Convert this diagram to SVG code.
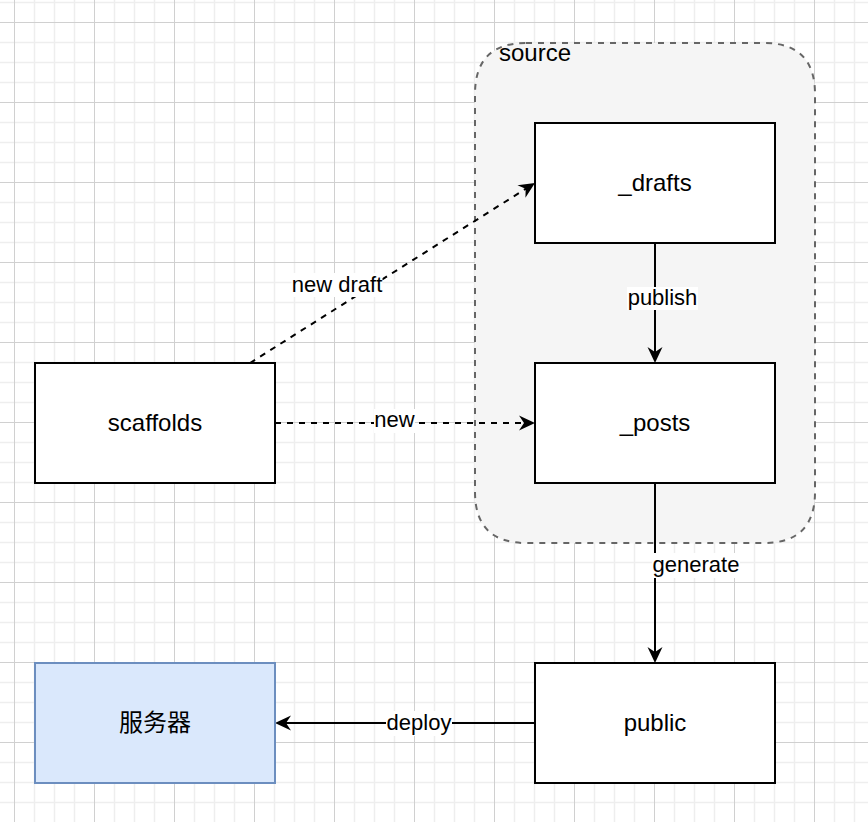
<svg xmlns="http://www.w3.org/2000/svg" width="868" height="822" viewBox="0 0 868 822">
<style>
.node{fill:#fff;stroke:#000;stroke-width:2}
.lbl{font-family:"Liberation Sans",Arial,sans-serif;font-size:24px;fill:#000;text-anchor:middle}
.elbl{font-family:"Liberation Sans",Arial,sans-serif;font-size:22px;fill:#000;text-anchor:middle}
.edge{fill:none;stroke:#000;stroke-width:2}
.dash{stroke-dasharray:6 6}
.bg{fill:#fff}
</style>
<defs>
<pattern id="grid" patternUnits="userSpaceOnUse" x="14" y="22" width="80" height="80">
<path d="M20.5,0V80M40.5,0V80M60.5,0V80M0,20.5H80M0,40.5H80M0,60.5H80" stroke="#eeeeee" stroke-width="1.5" fill="none"/>
<path d="M0.5,0V80M0,0.5H80" stroke="#d0d0d0" stroke-width="1" fill="none"/>
</pattern>
<marker id="arr" markerUnits="userSpaceOnUse" markerWidth="20" markerHeight="20" viewBox="-18 -10 20 20" refX="-10" refY="0" orient="auto">
<path d="M0,0 L-16,-7.5 L-11,0 L-16,7.5 Z" fill="#000"/>
</marker>
</defs>
<rect width="868" height="822" fill="#fff"/>
<rect width="868" height="822" fill="url(#grid)"/>

<g id="source">
<path d="M526,43 H764 Q815,43 815,94 V492 Q815,543 764,543 H526 Q475,543 475,492 V94 Q475,43 526,43 Z" fill="#f5f5f5" stroke="#666" stroke-width="2" stroke-dasharray="6 6"/>
<text x="499" y="61" font-family="Liberation Sans,Arial,sans-serif" font-size="24" fill="#000">source</text>
</g>

<g id="connectors">
<line class="edge dash" x1="250" y1="363" x2="526.5" y2="188.3" marker-end="url(#arr)"/>
<line class="edge dash" x1="275" y1="423" x2="525" y2="423" marker-end="url(#arr)"/>
<line class="edge" x1="655" y1="243" x2="655" y2="353" marker-end="url(#arr)"/>
<line class="edge" x1="655" y1="483" x2="655" y2="653" marker-end="url(#arr)"/>
<line class="edge" x1="535" y1="723" x2="285" y2="723" marker-end="url(#arr)"/>
<rect class="bg" x="291.5" y="273" width="91" height="24"/>
<text class="elbl" x="337" y="292">new draft</text>
<rect class="bg" x="374" y="409" width="41" height="24"/>
<text class="elbl" x="394.5" y="427">new</text>
<rect class="bg" x="627" y="287" width="71" height="23"/>
<text class="elbl" x="662.5" y="305">publish</text>
<rect class="bg" x="652" y="553" width="88" height="25"/>
<text class="elbl" x="696" y="572">generate</text>
<rect class="bg" x="386" y="711" width="66" height="25"/>
<text class="elbl" x="419" y="730">deploy</text>
</g>

<g id="drafts">
<rect class="node" x="535" y="123" width="240" height="120"/>
<text class="lbl" x="655" y="191">_drafts</text>
</g>
<g id="posts">
<rect class="node" x="535" y="363" width="240" height="120"/>
<text class="lbl" x="655" y="431">_posts</text>
</g>
<g id="scaffolds">
<rect class="node" x="35" y="363" width="240" height="120"/>
<text class="lbl" x="155" y="431">scaffolds</text>
</g>
<g id="public">
<rect class="node" x="535" y="663" width="240" height="120"/>
<text class="lbl" x="655" y="731">public</text>
</g>
<g id="server">
<rect x="35" y="663" width="240" height="120" fill="#dae8fc" stroke="#6c8ebf" stroke-width="2"/>
<text class="lbl" x="155" y="731" style="font-family:'Liberation Sans','Noto Sans CJK SC',sans-serif">服务器</text>
</g>
</svg>
